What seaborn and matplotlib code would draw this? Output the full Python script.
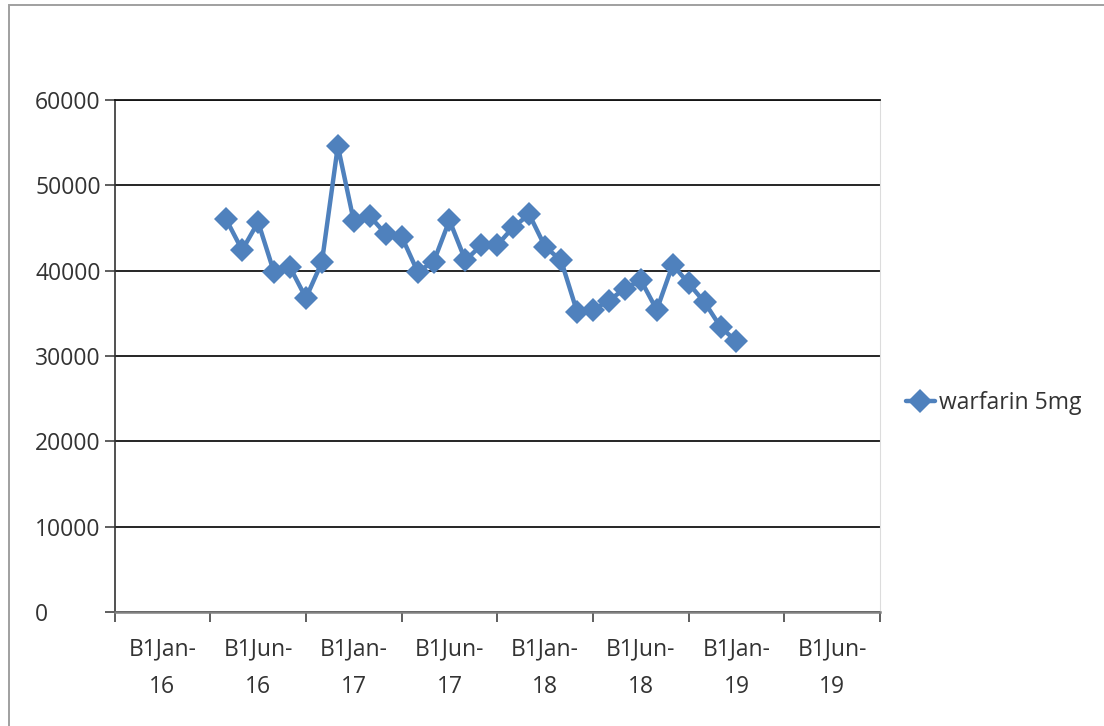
import numpy as np
import pandas as pd
import seaborn as sns
import matplotlib.pyplot as plt
from matplotlib.patches import Rectangle

# monthly totals
values = [46000, 42400, 45700, 39800, 40400, 36800, 41000, 54600, 45800, 46400,
          44300, 44000, 39900, 41000, 45900, 41200, 43000, 43000, 45100, 46600,
          42800, 41200, 35200, 35400, 36500, 37900, 38900, 35400, 40700, 38500,
          36300, 33400, 31700]
first_slot = 7          # data starts in the 8th category slot
n_slots = 48            # 8 label blocks of 6 slots each
tick_labels = ["B1Jan-\n16", "B1Jun-\n16", "B1Jan-\n17", "B1Jun-\n17",
               "B1Jan-\n18", "B1Jun-\n18", "B1Jan-\n19", "B1Jun-\n19"]
y_ticks = [0, 10000, 20000, 30000, 40000, 50000, 60000]
series_name = "warfarin 5mg"

df = pd.DataFrame({"slot": np.arange(first_slot, first_slot + len(values)),
                   "value": values})

sns.set_style("white")
plt.rcParams["font.family"] = ["Open Sans", "DejaVu Sans"]

blue = "#4F81BD"
text_col = "#333333"
W, H = 1104, 726
fig = plt.figure(figsize=(W / 100, H / 100), dpi=100)
ax = fig.add_axes([114.6 / W, 1 - 612 / H, (880 - 114.6) / W, (612 - 100) / H])

sns.lineplot(data=df, x="slot", y="value", ax=ax, color=blue, lw=3.2,
             marker="D", markersize=12.3, markeredgecolor=blue,
             markeredgewidth=0, label=series_name)

ax.set_xlim(0, n_slots)
ax.set_ylim(0, 60000)
ax.set_xlabel("")
ax.set_ylabel("")

# major ticks mark the block edges, minor ticks carry the labels
block = n_slots // len(tick_labels)
ax.set_xticks(np.arange(0, n_slots + 1, block))
ax.set_xticklabels([])
ax.set_xticks(np.arange(block / 2, n_slots, block), minor=True)
ax.set_xticklabels(tick_labels, minor=True, fontsize=16.5, color=text_col,
                   linespacing=1.73)
ax.tick_params(axis="x", which="major", direction="out", length=7.5,
               width=1.1, color="#333333", bottom=True)
ax.tick_params(axis="x", which="minor", length=0, pad=18.5)

ax.set_yticks(y_ticks)
ax.set_yticklabels([str(v) for v in y_ticks], fontsize=16.5, color=text_col)
ax.tick_params(axis="y", direction="out", length=7.2, width=1.1,
               color="#333333", left=True, pad=50.1)
for lab in ax.get_yticklabels():
    lab.set_horizontalalignment("left")

ax.yaxis.grid(True, color="#141414", lw=1.3)
ax.xaxis.grid(False)
ax.set_axisbelow(True)

ax.spines["left"].set_color("#333333")
ax.spines["left"].set_linewidth(1.2)
ax.spines["top"].set_color("#141414")
ax.spines["top"].set_linewidth(1.3)
ax.spines["bottom"].set_color("#808080")
ax.spines["bottom"].set_linewidth(1.8)
ax.spines["right"].set_color("#dcdcdc")
ax.spines["right"].set_linewidth(0.8)

ax.legend(loc="center left", bbox_to_anchor=(906 / W, 1 - 403 / H),
          bbox_transform=fig.transFigure, frameon=False, fontsize=16.5,
          handlelength=1.25, handletextpad=0.2, borderpad=0,
          borderaxespad=0, labelcolor=text_col)

# chart-area frame
fig.patches.append(Rectangle((8.7 / W, -0.1), 1.2, 1 - 5 / H + 0.1,
                             transform=fig.transFigure, fill=False,
                             edgecolor="#a0a0a0", lw=1.4))

fig.savefig("out.png", dpi=100)
